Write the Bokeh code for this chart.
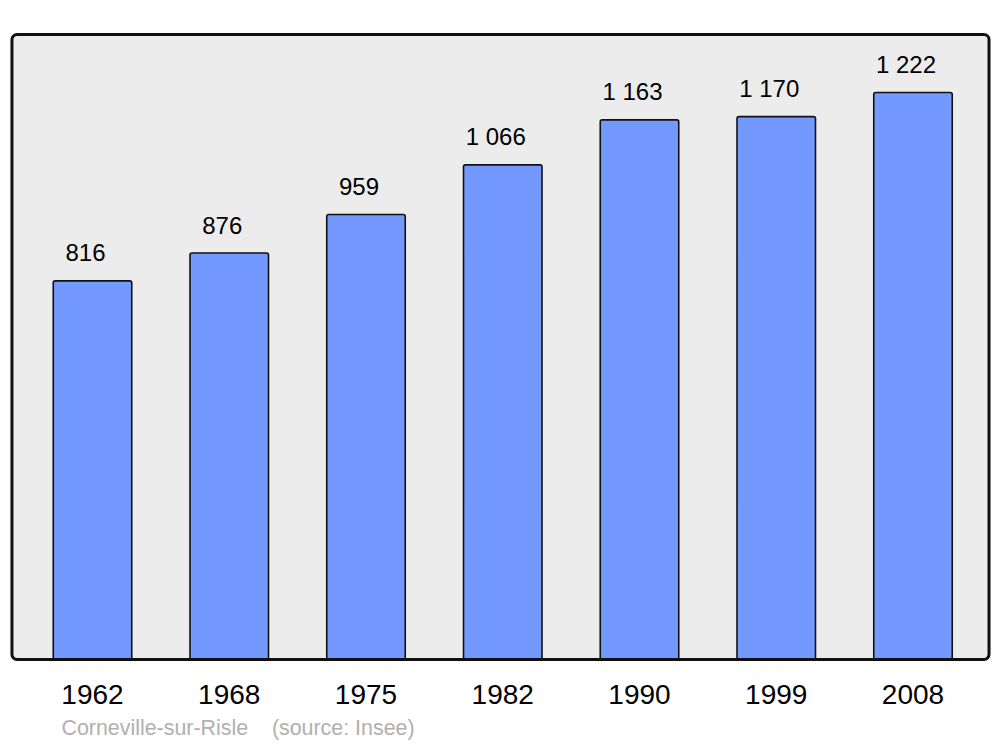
from bokeh.plotting import figure
from bokeh.models import ColumnDataSource, Title
from bokeh.core.properties import value
from bokeh.embed import file_html
from bokeh.resources import INLINE

years = ["1962", "1968", "1975", "1982", "1990", "1999", "2008"]
population = [816, 876, 959, 1066, 1163, 1170, 1222]
title_town = "Corneville-sur-Risle"
title_source = "(source: Insee)"

xs = list(range(len(years)))
labels = [f"{v:,}".replace(",", " ") for v in population]
src = ColumnDataSource(dict(x=xs, top=population, label=labels))

FONT = "Liberation Sans"

# frame box (data units) of the rounded panel
BOX_L, BOX_R, BOX_B, BOX_T = -0.589, 6.556, 0, 1347

p = figure(width=1000, height=747, output_backend="svg", toolbar_location=None,
           x_range=(-0.6362, 6.6033), y_range=(-15.09, 1359.9),
           min_border_left=5, min_border_right=5, min_border_top=28, min_border_bottom=81,
           y_axis_location=None)
p.background_fill_color = None
p.border_fill_color = "white"
p.outline_line_color = None
p.grid.visible = False

# rounded panel background
p.quad(left=[BOX_L], right=[BOX_R], bottom=[BOX_B], top=[BOX_T],
       fill_color="#ececec", line_color=None, border_radius=5)

p.vbar(x="x", top="top", bottom=0, width=0.574, source=src,
       fill_color="#7399ff", line_color="#111111", line_width=1.6, border_radius=2)

p.text(x="x", y="top", text="label", source=src, text_align="center",
       text_baseline="alphabetic", x_offset=-7, y_offset=-28,
       text_font=value(FONT), text_font_size="24px", text_color="#000000")

# rounded panel border on top
p.quad(left=[BOX_L], right=[BOX_R], bottom=[BOX_B], top=[BOX_T],
       fill_color=None, line_color="#111111", line_width=3, border_radius=5)

ax = p.xaxis[0]
ax.ticker = xs
ax.major_label_overrides = {i: y for i, y in zip(xs, years)}
ax.axis_line_color = None
ax.major_tick_line_color = None
ax.minor_tick_line_color = None
ax.major_tick_out = 0
ax.major_tick_in = 0
ax.major_label_standoff = 18
ax.major_label_text_font = FONT
ax.major_label_text_font_size = "28px"
ax.major_label_text_color = "#000000"

src_title = Title(text=title_town + "\u00a0" * 4 + title_source, align="left",
                  offset=56, standoff=14, vertical_align="bottom",
                  text_font=FONT, text_font_size="21.4px",
                  text_font_style="normal", text_color="#b0b0b0")
p.add_layout(src_title, "below")

open("out.html", "w").write(file_html(p, INLINE))
